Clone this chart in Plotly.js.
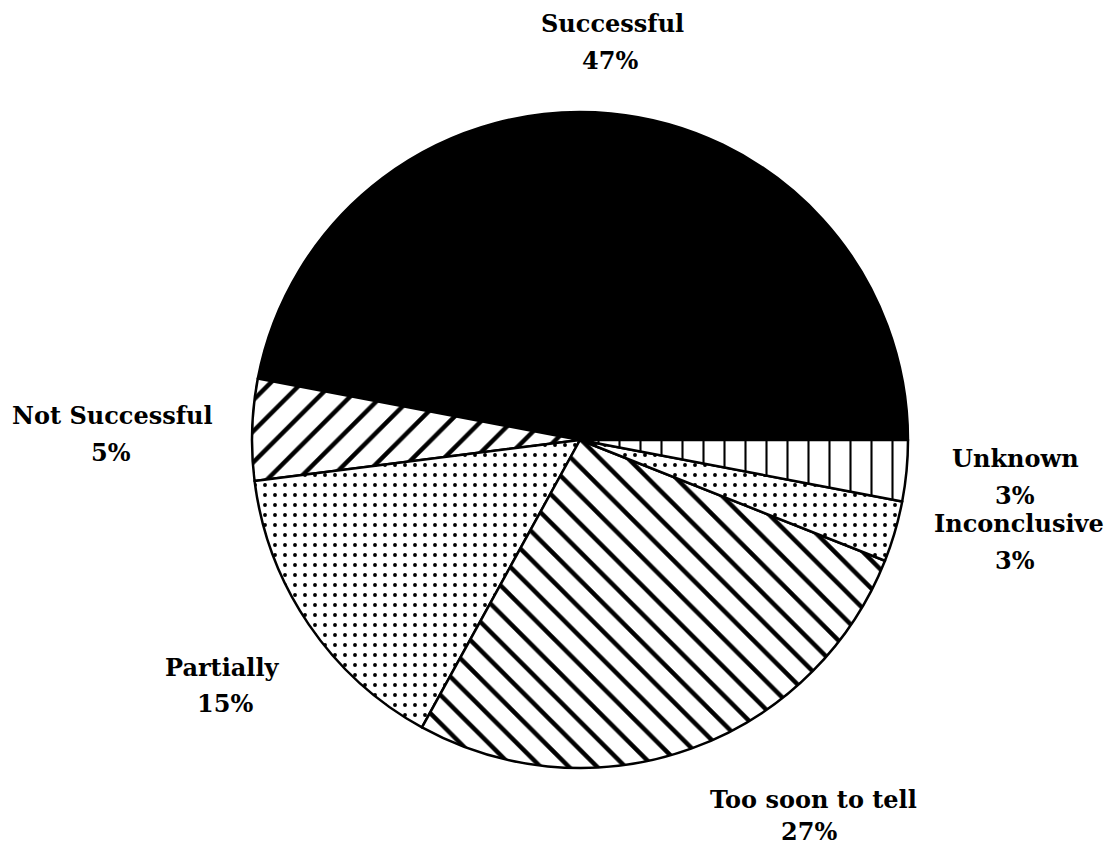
<!DOCTYPE html>
<html>
<head>
<meta charset="utf-8">
<script src="https://cdn.plot.ly/plotly-3.0.1.min.js"></script>
<style>html,body{margin:0;padding:0;background:#fff;}#chart{width:1112px;height:845px;}</style>
</head>
<body>
<div id="chart"></div>
<script>
const categories = ["Successful", "Not Successful", "Partially", "Too soon to tell", "Inconclusive", "Unknown"];
const values = [47, 5, 15, 27, 3, 3];
const patternShapes = ["", "/", ".", "\\", ".", "|"];
const pctLabels = values.map(v => v + "%");

const fontFam = "DejaVu Serif, Liberation Serif, serif";
// label centres in pixels: [name x, name y, percent x, percent y]
const labelPos = [
  [612, 24, 610, 60],
  [112, 415, 111, 452],
  [222, 667, 225, 703],
  [813, 799, 809, 831],
  [1019, 523, 1015, 560],
  [1015, 458, 1015, 496]
];

const total = values.reduce((a, b) => a + b, 0);
// Plotly places the first slice clockwise of `rotation` when direction is counterclockwise;
// shift so the first slice begins at 3 o'clock and runs counterclockwise.
const rotation = 90 - values[0] / total * 360;

const trace = {
  type: "pie",
  labels: categories,
  values: values,
  sort: false,
  direction: "counterclockwise",
  rotation: rotation,
  textinfo: "none",
  hoverinfo: "label+percent",
  showlegend: false,
  domain: {x: [252/1112, 908/1112], y: [1 - 768/845, 1 - 112/845]},
  marker: {
    colors: ["#000000", "#ffffff", "#ffffff", "#ffffff", "#ffffff", "#ffffff"],
    line: {color: "#000000", width: 2.5},
    pattern: {
      shape: patternShapes,
      fgcolor: "#000000",
      bgcolor: "#ffffff",
      fgopacity: 1,
      size: [10, 22, 10, 20, 10, 21],
      solidity: [0.3, 0.2, 0.12, 0.22, 0.12, 0.1],
      fillmode: "overlay"
    }
  }
};

function ann(text, px, py) {
  return {
    text: "<b>" + text + "</b>",
    x: px / 1112, y: 1 - py / 845,
    xref: "paper", yref: "paper",
    xanchor: "center", yanchor: "middle",
    showarrow: false, align: "center",
    font: {family: fontFam, size: 24, color: "#000"}
  };
}

const annotations = [];
categories.forEach((c, i) => {
  const p = labelPos[i];
  annotations.push(ann(c, p[0], p[1]));
  annotations.push(ann(pctLabels[i], p[2], p[3]));
});

const layout = {
  width: 1112, height: 845,
  margin: {l: 0, r: 0, t: 0, b: 0},
  paper_bgcolor: "#ffffff",
  plot_bgcolor: "#ffffff",
  annotations: annotations
};

Plotly.newPlot("chart", [trace], layout, {displayModeBar: false, staticPlot: true});
</script>
</body>
</html>
